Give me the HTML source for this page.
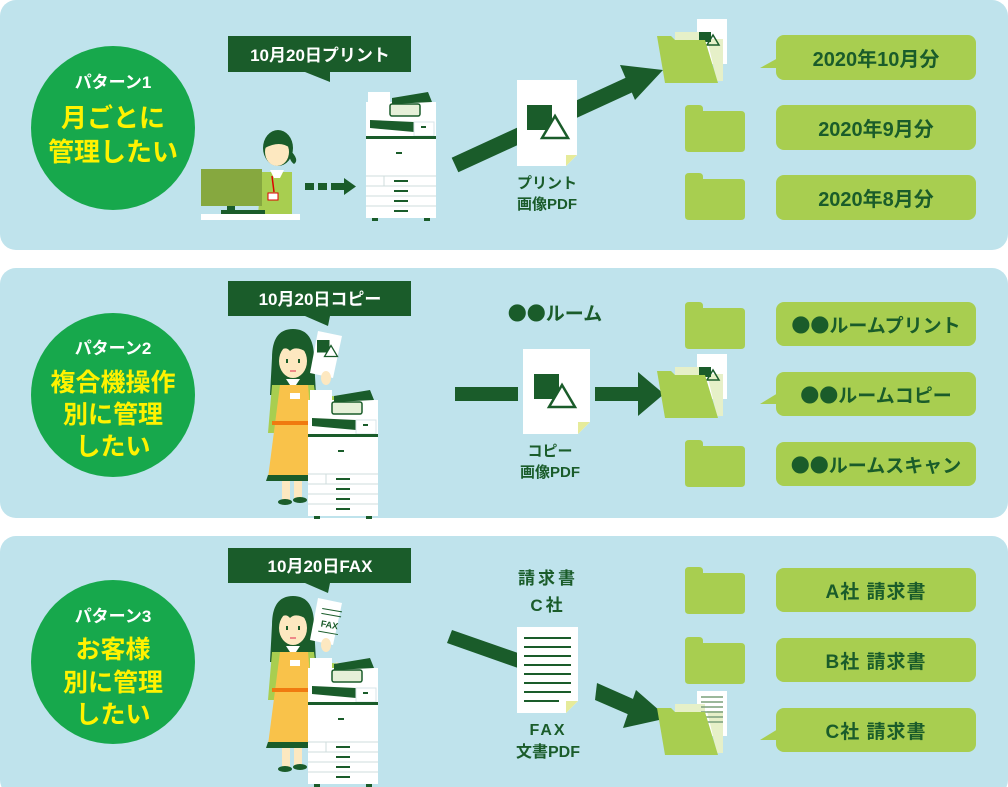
<!DOCTYPE html>
<html><head><meta charset="utf-8"><style>
html,body{margin:0;padding:0;background:#fff;}
svg{display:block;}
text{font-family:"Liberation Sans","Noto Sans CJK JP",sans-serif;font-weight:bold;}
.cjk{font-family:"Noto Sans CJK JP",sans-serif;}
</style></head><body>
<svg width="1008" height="787" viewBox="0 0 1008 787" xmlns="http://www.w3.org/2000/svg">
<defs>
<g id="printer">
  <rect x="0" y="10" width="70" height="116" fill="#fff"/>
  <rect x="2" y="0" width="22" height="12" fill="#fff"/>
  <polygon points="26,6 62,0 66,10 26,12" fill="#1a5c2a"/>
  <rect x="24" y="12" width="30" height="12" rx="2" fill="#e6f0d8" stroke="#1a5c2a" stroke-width="1.5"/>
  <polygon points="4,28 48,30 48,40 4,36" fill="#1a5c2a"/>
  <rect x="48" y="30" width="20" height="14" fill="#fff" stroke="#d8e6e8" stroke-width="1"/>
  <rect x="55" y="34" width="5" height="2" fill="#1a5c2a"/>
  <rect x="0" y="44" width="70" height="3" fill="#1a5c2a"/>
  <rect x="30" y="60" width="6" height="2" fill="#1a5c2a"/>
  <line x1="0" y1="84" x2="70" y2="84" stroke="#cfdcdc"/>
  <line x1="18" y1="84" x2="18" y2="94" stroke="#cfdcdc"/>
  <line x1="0" y1="94" x2="70" y2="94" stroke="#cfdcdc"/>
  <line x1="0" y1="104" x2="70" y2="104" stroke="#cfdcdc"/>
  <line x1="0" y1="114" x2="70" y2="114" stroke="#cfdcdc"/>
  <rect x="28" y="88" width="14" height="2" fill="#1a5c2a"/>
  <rect x="28" y="98" width="14" height="2" fill="#1a5c2a"/>
  <rect x="28" y="108" width="14" height="2" fill="#1a5c2a"/>
  <rect x="28" y="118" width="14" height="2" fill="#1a5c2a"/>
  <rect x="6" y="126" width="6" height="3" fill="#1a5c2a"/>
  <rect x="58" y="126" width="6" height="3" fill="#1a5c2a"/>
</g>
<g id="woman">
  <path d="M272,625 Q272,596 293,596 Q314,596 314,625 L316,662 L300,662 L287,662 L270,662 Z" fill="#1a5c2a"/>
  <path d="M272,652 L314,652 L320,700 L268,700 Z" fill="#a8ce50"/>
  <polygon points="308,660 340,664 338,676 310,676" fill="#a8ce50"/>
  <polygon points="336,662 348,667 338,672" fill="#fde8c0"/>
  <path d="M280,652 L308,652 L316,745 L268,745 Z" fill="#f9c24a"/>
  <rect x="272" y="688" width="40" height="4" fill="#f07a10"/>
  <path d="M268,742 L316,742 L316,748 L266,748 Z" fill="#1a5c2a"/>
  <rect x="290" y="660" width="10" height="6" fill="#fff"/>
  <rect x="282" y="748" width="8" height="20" fill="#fde8c0"/>
  <rect x="294" y="748" width="8" height="18" fill="#fde8c0"/>
  <ellipse cx="285" cy="769" rx="7" ry="3" fill="#1a5c2a"/>
  <ellipse cx="300" cy="767" rx="7" ry="3" fill="#1a5c2a"/>
  <ellipse cx="293" cy="628" rx="14" ry="17" fill="#fde8c0"/>
  <path d="M278,620 Q280,604 293,604 Q308,604 308,620 Q296,612 290,618 Q285,612 278,620 Z" fill="#1a5c2a"/>
  <rect x="286" y="626" width="2" height="4" fill="#1a5c2a"/>
  <rect x="298" y="626" width="2" height="4" fill="#1a5c2a"/>
  <rect x="290" y="637" width="6" height="2" fill="#e88"/>
  <polygon points="286,646 300,646 296,652 290,652" fill="#fff"/>
  <polygon points="318,598 342,603 333,645 310,640" fill="#fff"/>
  <ellipse cx="326" cy="645" rx="5" ry="7" fill="#fde8c0"/>
</g>
<g id="docShapes">
  <rect x="0" y="0" width="25" height="25" fill="#1a5c2a"/>
  <polygon points="28,11 15,33 41,33" fill="#fff" stroke="#1a5c2a" stroke-width="2.5"/>
</g>
<g id="closedFolder">
  <path d="M0,4 Q0,0 4,0 L14,0 Q18,0 18,4 L18,6 L56,6 Q60,6 60,10 L60,43 Q60,47 56,47 L4,47 Q0,47 0,43 Z" fill="#a8ce50"/>
</g>
</defs>

<rect x="0" y="0" width="1008" height="250" rx="16" fill="#bfe3ec"/>
<rect x="0" y="268" width="1008" height="250" rx="16" fill="#bfe3ec"/>
<rect x="0" y="536" width="1008" height="260" rx="16" fill="#bfe3ec"/>

<circle cx="113" cy="128" r="82" fill="#17a84c"/>
<text x="113" y="88" text-anchor="middle" font-size="17" fill="#fff">パターン1</text>
<text x="113" y="127" text-anchor="middle" font-size="26" fill="#fff200">月ごとに</text>
<text x="113" y="161" text-anchor="middle" font-size="26" fill="#fff200">管理したい</text>

<circle cx="113" cy="395" r="82" fill="#17a84c"/>
<text x="113" y="354" text-anchor="middle" font-size="17" fill="#fff">パターン2</text>
<text x="113" y="391" text-anchor="middle" font-size="25" fill="#fff200">複合機操作</text>
<text x="113" y="423" text-anchor="middle" font-size="25" fill="#fff200">別に管理</text>
<text x="113" y="455" text-anchor="middle" font-size="25" fill="#fff200">したい</text>

<circle cx="113" cy="662" r="82" fill="#17a84c"/>
<text x="113" y="622" text-anchor="middle" font-size="17" fill="#fff">パターン3</text>
<text x="113" y="658" text-anchor="middle" font-size="25" fill="#fff200">お客様</text>
<text x="113" y="691" text-anchor="middle" font-size="25" fill="#fff200">別に管理</text>
<text x="113" y="723" text-anchor="middle" font-size="25" fill="#fff200">したい</text>

<rect x="228" y="36" width="183" height="36" fill="#1a5c2a"/>
<polygon points="305,72 330,72 330,82" fill="#1a5c2a"/>
<text x="320" y="61" text-anchor="middle" font-size="17" fill="#fff">10月20日プリント</text>
<rect x="228" y="281" width="183" height="35" fill="#1a5c2a"/>
<polygon points="305,316 330,316 328,326" fill="#1a5c2a"/>
<text x="320" y="305" text-anchor="middle" font-size="17" fill="#fff">10月20日コピー</text>
<rect x="228" y="548" width="183" height="35" fill="#1a5c2a"/>
<polygon points="305,583 330,583 328,593" fill="#1a5c2a"/>
<text x="320" y="572" text-anchor="middle" font-size="17" fill="#fff">10月20日FAX</text>

<ellipse cx="278" cy="148" rx="15" ry="18" fill="#1a5c2a"/>
<path d="M290,150 Q300,160 294,164 Q288,160 290,150Z" fill="#1a5c2a"/>
<ellipse cx="277" cy="152" rx="12" ry="14" fill="#fde8c0"/>
<path d="M265,148 Q268,136 278,136 Q289,136 290,148 Q280,140 265,148Z" fill="#1a5c2a"/>
<path d="M262,172 L292,172 L292,214 L258,214 Z" fill="#a8ce50"/>
<polygon points="270,170 284,170 280,178 274,178" fill="#fff"/>
<line x1="272" y1="176" x2="274" y2="192" stroke="#d00" stroke-width="1.5"/>
<rect x="268" y="193" width="10" height="7" fill="#fff" stroke="#d00" stroke-width="1"/>
<rect x="201" y="169" width="61" height="37" fill="#86a83f"/>
<rect x="227" y="206" width="8" height="8" fill="#1a5c2a"/>
<rect x="221" y="210" width="44" height="4" fill="#1a5c2a"/>
<rect x="201" y="214" width="99" height="6" fill="#fff"/>
<rect x="305" y="183" width="9" height="7" fill="#1a5c2a"/>
<rect x="318" y="183" width="9" height="7" fill="#1a5c2a"/>
<rect x="331" y="183" width="14" height="7" fill="#1a5c2a"/>
<polygon points="344,178 356,186.5 344,195" fill="#1a5c2a"/>
<use href="#printer" x="366" y="92"/>

<line x1="455" y1="165" x2="640" y2="80" stroke="#1a5c2a" stroke-width="16"/>
<polygon points="620,65 663,70 635,100" fill="#1a5c2a"/>
<polygon points="517,80 577,80 577,155 566,166 517,166" fill="#fff"/>
<polygon points="566,166 577,155 566,155" fill="#e6eb9a"/>
<use href="#docShapes" x="527" y="105"/>
<text x="547" y="188" text-anchor="middle" font-size="15" fill="#1a5c2a">プリント</text>
<text x="547" y="209" text-anchor="middle" font-size="15" fill="#1a5c2a">画像PDF</text>

<g transform="translate(657,19)">
  <rect x="40" y="0" width="30" height="45" fill="#fff"/>
  <rect x="18" y="13" width="30" height="20" fill="#e6f0c8"/>
  <path d="M50,20 L66,20 L66,62 L60,62 Z" fill="#e6f0c8"/>
  <rect x="42" y="13" width="12" height="10" fill="#1a5c2a"/>
  <polygon points="56,16 50,26 62,26" fill="none" stroke="#1a5c2a" stroke-width="1.5"/>
  <path d="M0,17 L14,17 L18,21 L48,21 L61,64 L8,64 Z" fill="#a8ce50"/>
</g>
<use href="#closedFolder" x="685" y="105"/>
<use href="#closedFolder" x="685" y="173"/>

<rect x="776" y="35" width="200" height="45" rx="8" fill="#a8ce50"/>
<polygon points="778,58 760,68 778,68" fill="#a8ce50"/>
<text x="876" y="66" text-anchor="middle" font-size="20" fill="#1a5c2a">2020年10月分</text>
<rect x="776" y="105" width="200" height="45" rx="8" fill="#a8ce50"/>
<text x="876" y="136" text-anchor="middle" font-size="20" fill="#1a5c2a">2020年9月分</text>
<rect x="776" y="175" width="200" height="45" rx="8" fill="#a8ce50"/>
<text x="876" y="206" text-anchor="middle" font-size="20" fill="#1a5c2a">2020年8月分</text>

<use href="#woman" transform="translate(0,-267)"/>
<use href="#docShapes" transform="translate(317,340) scale(0.5)"/>
<use href="#printer" x="308" y="390"/>
<text x="555" y="320" text-anchor="middle" font-size="19" fill="#1a5c2a"><tspan class="cjk">●●</tspan>ルーム</text>
<rect x="455" y="387" width="63" height="14" fill="#1a5c2a"/>
<rect x="595" y="387" width="45" height="14" fill="#1a5c2a"/>
<polygon points="638,372 664,394 638,416" fill="#1a5c2a"/>
<polygon points="523,349 590,349 590,422 578,434 523,434" fill="#fff"/>
<polygon points="578,434 590,422 578,422" fill="#e6eb9a"/>
<use href="#docShapes" x="534" y="374"/>
<text x="550" y="456" text-anchor="middle" font-size="15" fill="#1a5c2a">コピー</text>
<text x="550" y="477" text-anchor="middle" font-size="15" fill="#1a5c2a">画像PDF</text>

<use href="#closedFolder" x="685" y="302"/>
<g transform="translate(657,354)">
  <rect x="40" y="0" width="30" height="45" fill="#fff"/>
  <rect x="18" y="13" width="30" height="20" fill="#e6f0c8"/>
  <path d="M50,20 L66,20 L66,62 L60,62 Z" fill="#e6f0c8"/>
  <rect x="42" y="13" width="12" height="10" fill="#1a5c2a"/>
  <polygon points="56,16 50,26 62,26" fill="none" stroke="#1a5c2a" stroke-width="1.5"/>
  <path d="M0,17 L14,17 L18,21 L48,21 L61,64 L8,64 Z" fill="#a8ce50"/>
</g>
<use href="#closedFolder" x="685" y="440"/>
<rect x="776" y="302" width="200" height="44" rx="8" fill="#a8ce50"/>
<text x="876" y="332" text-anchor="middle" font-size="19" fill="#1a5c2a"><tspan class="cjk">●●</tspan>ルームプリント</text>
<rect x="776" y="372" width="200" height="44" rx="8" fill="#a8ce50"/>
<polygon points="778,393 760,404 778,404" fill="#a8ce50"/>
<text x="876" y="402" text-anchor="middle" font-size="19" fill="#1a5c2a"><tspan class="cjk">●●</tspan>ルームコピー</text>
<rect x="776" y="442" width="200" height="44" rx="8" fill="#a8ce50"/>
<text x="876" y="472" text-anchor="middle" font-size="19" fill="#1a5c2a"><tspan class="cjk">●●</tspan>ルームスキャン</text>

<use href="#woman"/>
<g transform="rotate(10 330 622)">
  <text x="330" y="628" text-anchor="middle" font-size="9" fill="#1a5c2a">FAX</text>
  <line x1="320" y1="610" x2="340" y2="610" stroke="#1a5c2a"/>
  <line x1="320" y1="615" x2="340" y2="615" stroke="#1a5c2a"/>
  <line x1="320" y1="633" x2="340" y2="633" stroke="#1a5c2a"/>
</g>
<use href="#printer" x="308" y="658"/>
<text x="548" y="584" text-anchor="middle" font-size="17" fill="#1a5c2a" letter-spacing="3">請求書</text>
<text x="548" y="611" text-anchor="middle" font-size="17" fill="#1a5c2a" letter-spacing="3">C社</text>
<polygon points="452,630 518,653 518,668 447,643" fill="#1a5c2a"/>
<polygon points="597,683 640,702 632,716 595,700" fill="#1a5c2a"/>
<polygon points="636,690 668,718 623,728" fill="#1a5c2a"/>
<polygon points="517,627 578,627 578,701 566,713 517,713" fill="#fff"/>
<polygon points="566,713 578,701 566,701" fill="#e6eb9a"/>
<g stroke="#1a5c2a" stroke-width="2">
  <line x1="524" y1="638" x2="571" y2="638"/>
  <line x1="524" y1="647" x2="571" y2="647"/>
  <line x1="524" y1="656" x2="571" y2="656"/>
  <line x1="524" y1="665" x2="571" y2="665"/>
  <line x1="524" y1="674" x2="571" y2="674"/>
  <line x1="524" y1="683" x2="571" y2="683"/>
  <line x1="524" y1="692" x2="571" y2="692"/>
  <line x1="524" y1="701" x2="559" y2="701"/>
</g>
<text x="548" y="735" text-anchor="middle" font-size="16" fill="#1a5c2a" letter-spacing="2">FAX</text>
<text x="548" y="757" text-anchor="middle" font-size="16" fill="#1a5c2a">文書PDF</text>

<use href="#closedFolder" x="685" y="567"/>
<use href="#closedFolder" x="685" y="637"/>
<g transform="translate(657,691)">
  <rect x="40" y="0" width="30" height="45" fill="#fff"/>
  <rect x="18" y="13" width="30" height="20" fill="#e6f0c8"/>
  <path d="M50,20 L66,20 L66,62 L60,62 Z" fill="#e6f0c8"/>
  <g stroke="#7aa07a" stroke-width="1.5">
    <line x1="44" y1="6" x2="66" y2="6"/><line x1="44" y1="11" x2="66" y2="11"/>
    <line x1="44" y1="16" x2="66" y2="16"/><line x1="44" y1="21" x2="66" y2="21"/>
    <line x1="44" y1="26" x2="66" y2="26"/><line x1="44" y1="31" x2="66" y2="31"/>
  </g>
  <path d="M0,17 L14,17 L18,21 L48,21 L61,64 L8,64 Z" fill="#a8ce50"/>
</g>
<rect x="776" y="568" width="200" height="44" rx="8" fill="#a8ce50"/>
<text x="876" y="598" text-anchor="middle" font-size="19" fill="#1a5c2a" letter-spacing="1">A社 請求書</text>
<rect x="776" y="638" width="200" height="44" rx="8" fill="#a8ce50"/>
<text x="876" y="668" text-anchor="middle" font-size="19" fill="#1a5c2a" letter-spacing="1">B社 請求書</text>
<rect x="776" y="708" width="200" height="44" rx="8" fill="#a8ce50"/>
<polygon points="778,729 760,740 778,740" fill="#a8ce50"/>
<text x="876" y="738" text-anchor="middle" font-size="19" fill="#1a5c2a" letter-spacing="1">C社 請求書</text>
</svg>
</body></html>
